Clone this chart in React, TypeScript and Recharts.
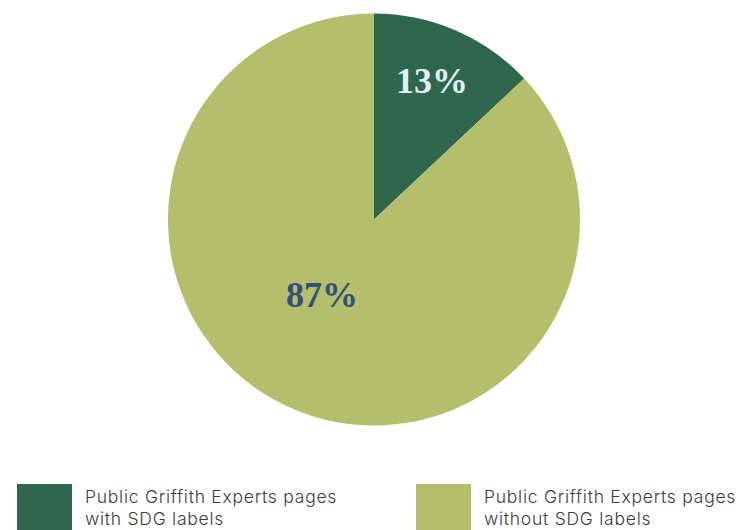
import { PieChart, Pie, Cell, Legend } from "recharts";

const categories = [
  "Public Griffith Experts pages with SDG labels",
  "Public Griffith Experts pages without SDG labels",
];
const legendLines = [
  ["Public Griffith Experts pages", "with SDG labels"],
  ["Public Griffith Experts pages", "without SDG labels"],
];
const shares = [13, 87];
const sliceColors = ["#2e674c", "#b5be6a"];
const labelColors = ["#def2f7", "#34507a"];

const data = categories.map((name, i) => ({ name, value: shares[i] }));

const RAD = Math.PI / 180;

// label placement tweaks per slice: radius factor, angle shift (deg)
const labelPos = [
  { f: 0.72, shift: 0 },
  { f: 0.45, shift: -10 },
];

function renderLabel(props: any) {
  const { cx, cy, midAngle, outerRadius, index, value } = props;
  const p = labelPos[index];
  const a = (midAngle + p.shift) * RAD;
  const r = outerRadius * p.f;
  const x = cx + r * Math.cos(a);
  const y = cy - r * Math.sin(a);
  return (
    <text
      x={x - 1}
      y={y + 10}
      fill={labelColors[index]}
      textAnchor="middle"
      fontFamily="'Liberation Serif', serif"
      fontWeight="bold"
      fontSize={36}
    >
      {value}%
    </text>
  );
}

function LegendBox() {
  return (
    <div style={{ position: "relative", width: 749, height: 50 }}>
      {legendLines.map((lines, i) => (
        <div
          key={i}
          style={{
            position: "absolute",
            left: i === 0 ? 17 : 416,
            top: 0,
            display: "flex",
          }}
        >
          <div
            style={{ width: 55, height: 55, background: sliceColors[i], flexShrink: 0 }}
          />
          <div
            style={{
              marginLeft: 13,
              marginTop: 2,
              fontFamily: "Inter, sans-serif",
              fontSize: 17.5,
              letterSpacing: 0.75,
              lineHeight: "22px",
              color: "#3c3c3c",
              fontWeight: 300,
              whiteSpace: "nowrap",
            }}
          >
            {lines.map((l) => (
              <div key={l}>{l}</div>
            ))}
          </div>
        </div>
      ))}
    </div>
  );
}

export default function App() {
  return (
    <div style={{ position: "absolute", left: 0, top: 0, width: 749, height: 530, overflow: "hidden", background: "#fff" }}>
      <PieChart width={749} height={530} margin={{ top: 0, right: 0, bottom: 0, left: 0 }}>
        <Pie
          data={data}
          dataKey="value"
          nameKey="name"
          cx={374}
          cy={219.5}
          outerRadius={206}
          startAngle={90}
          endAngle={-270}
          stroke="none"
          label={renderLabel}
          labelLine={false}
          isAnimationActive={false}
        >
          {data.map((d, i) => (
            <Cell key={d.name} fill={sliceColors[i]} />
          ))}
        </Pie>
        <Legend
          content={() => <LegendBox />}
          wrapperStyle={{ left: 0, top: 484, width: 749, bottom: "auto" }}
        />
      </PieChart>
    </div>
  );
}
